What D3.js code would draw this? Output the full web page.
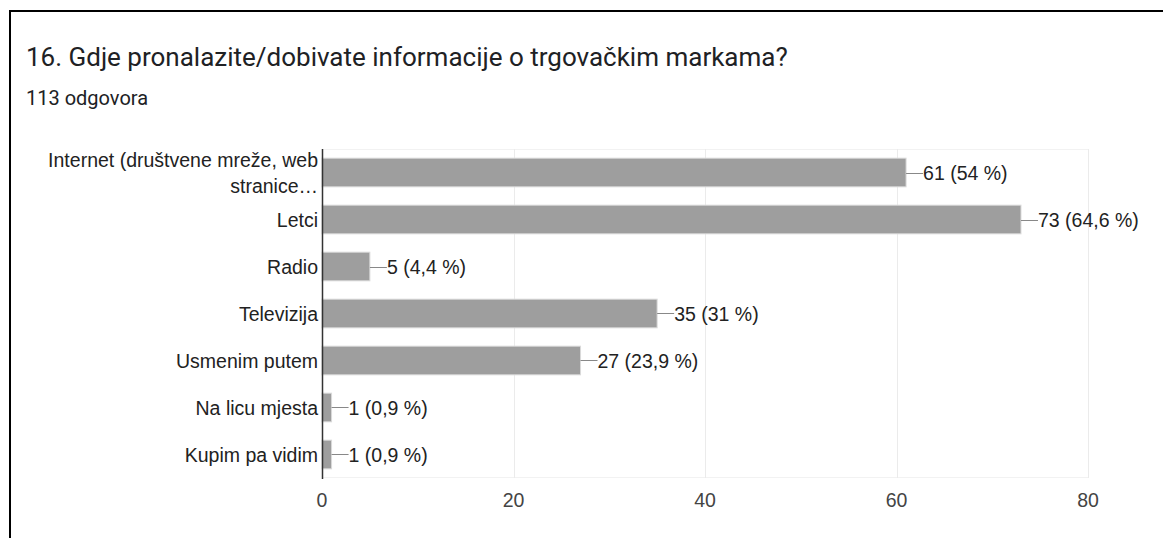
<!DOCTYPE html>
<html><head><meta charset="utf-8">
<script src="https://cdn.jsdelivr.net/npm/d3@7"></script>
<style>
body{margin:0;background:#fff;}
svg{display:block;}
</style></head>
<body>
<svg id="c" width="1163" height="538"></svg>
<script>
const categories = [["Internet (društvene mreže, web","stranice…"],["Letci"],["Radio"],["Televizija"],["Usmenim putem"],["Na licu mjesta"],["Kupim pa vidim"]];
const values = [61,73,5,35,27,1,1];
const valueLabels = ["61 (54 %)","73 (64,6 %)","5 (4,4 %)","35 (31 %)","27 (23,9 %)","1 (0,9 %)","1 (0,9 %)"];
const ticks = [0,20,40,60,80];
const title = "16. Gdje pronalazite/dobivate informacije o trgovačkim markama?";
const subtitle = "113 odgovora";

const F = "'Liberation Sans', Arial, sans-serif";
const FS = 19.5;
const svg = d3.select("#c");
// border
svg.append("path").attr("d","M10,540 L10,11 L1165,11").attr("fill","none").attr("stroke","#000").attr("stroke-width",2);

svg.append("text").attr("x",26).attr("y",66).attr("font-family","Roboto, sans-serif").attr("font-size",26).attr("fill","#202124").text(title);
svg.append("text").attr("x",26).attr("y",105).attr("font-family","Roboto, sans-serif").attr("font-size",20).attr("fill","#202124").text(subtitle);

const x = d3.scaleLinear().domain([0,80]).range([322,1088]);
const y = d3.scaleBand().domain(d3.range(categories.length)).range([149,478]).paddingInner(0.39).paddingOuter(0.195);

const g = svg.append("g");
// plot box lines
g.append("line").attr("x1",x(0)).attr("x2",x(80)).attr("y1",149.5).attr("y2",149.5).attr("stroke","#f2f2f2");
g.append("line").attr("x1",x(0)).attr("x2",x(80)).attr("y1",477.5).attr("y2",477.5).attr("stroke","#f2f2f2");
ticks.slice(1).forEach(t=>{
  g.append("line").attr("x1",Math.round(x(t))+0.5).attr("x2",Math.round(x(t))+0.5).attr("y1",149).attr("y2",478).attr("stroke","#ebebeb");
});
// tick labels
ticks.forEach(t=>{
  g.append("text").attr("x",x(t)).attr("y",507).attr("text-anchor","middle").attr("font-family",F).attr("font-size",FS).attr("fill","#444").text(t);
});
// bars
values.forEach((v,i)=>{
  g.append("rect").attr("x",x(0)).attr("y",y(i)).attr("width",x(v)-x(0)).attr("height",y.bandwidth()).attr("fill","#9e9e9e").attr("stroke","#dadada").attr("stroke-width",1);
  const cy = y(i)+y.bandwidth()/2;
  g.append("line").attr("x1",x(v)).attr("x2",x(v)+17).attr("y1",Math.round(cy)+0.5).attr("y2",Math.round(cy)+0.5).attr("stroke","#888");
  g.append("text").attr("x",x(v)+17).attr("y",cy+7).attr("font-family",F).attr("font-size",FS).attr("fill","#222").text(valueLabels[i]);
  const lines = categories[i];
  lines.forEach((l,j)=>{
    const off = lines.length===1 ? 7 : (j===0 ? -5.5 : 20.5);
    g.append("text").attr("x",318).attr("y",cy+off).attr("text-anchor","end").attr("font-family",F).attr("font-size",FS).attr("fill","#222").text(l);
  });
});
// zero axis
g.append("line").attr("x1",322.5).attr("x2",322.5).attr("y1",149).attr("y2",479).attr("stroke","#333").attr("stroke-width",1.5);
</script>
</body></html>
